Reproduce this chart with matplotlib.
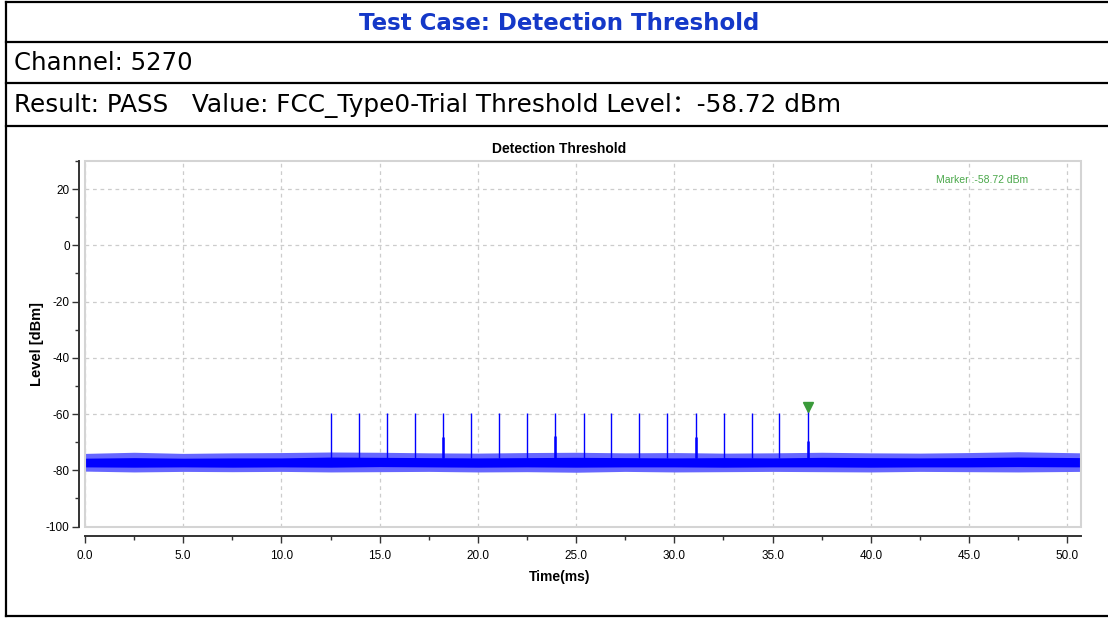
import matplotlib
matplotlib.use("Agg")
import matplotlib.pyplot as plt
from matplotlib.lines import Line2D
from matplotlib.patches import Rectangle
from matplotlib.ticker import MultipleLocator, FormatStrFormatter

plt.rcParams['axes.unicode_minus'] = False

W, H = 1108, 618
CHART = ['Liberation Sans', 'DejaVu Sans']
TABLE = ['DejaVu Sans', 'Noto Sans CJK SC']

# pulse times (ms) and peak levels (dBm)
pulse_t = [12.53, 13.94, 15.37, 16.79, 18.23, 19.66, 21.08, 22.51, 23.93,
           25.38, 26.80, 28.21, 29.63, 31.09, 32.52, 33.93, 35.35, 36.78]
pulse_peak = [-59.5, -59.5, -59.5, -59.5, -59.5, -59.5, -59.5, -59.5, -59.5,
              -59.5, -59.5, -59.5, -59.5, -59.5, -59.5, -59.5, -59.5, -58.72]
# thicker lower part seen on some pulses
echo_t = [18.23, 23.93, 31.09, 36.78]
echo_peak = [-68.0, -67.8, -68.0, -69.5]

# noise floor envelope (dBm) sampled along time
noise_t = [0, 2.5, 5, 7.5, 10, 12.5, 15, 17.5, 20, 22.5, 25, 27.5, 30,
           32.5, 35, 37.5, 40, 42.5, 45, 47.5, 50.7]
core_hi = [-75.7, -75.5, -75.7, -75.6, -75.6, -75.3, -75.4, -75.5, -75.6, -75.5,
           -75.4, -75.5, -75.6, -75.5, -75.6, -75.4, -75.5, -75.6, -75.5, -75.3, -75.5]
core_lo = [-78.8, -78.9, -78.8, -78.9, -78.8, -78.9, -78.7, -78.8, -78.9, -78.8,
           -78.9, -78.8, -78.8, -78.9, -78.8, -78.8, -78.9, -78.8, -78.8, -78.7, -78.8]
peak_hi = [-74.0, -73.6, -74.0, -73.8, -73.7, -73.5, -73.6, -73.8, -73.9, -73.7,
           -73.6, -73.8, -73.7, -73.9, -73.8, -73.6, -73.8, -73.9, -73.7, -73.4, -73.8]
peak_lo = [-80.3, -80.6, -80.4, -80.5, -80.4, -80.6, -80.5, -80.4, -80.6, -80.5,
           -80.7, -80.4, -80.6, -80.5, -80.4, -80.5, -80.6, -80.4, -80.5, -80.6, -80.4]

marker_t, marker_val = 36.78, -58.72

fig = plt.figure(figsize=(W / 100, H / 100), dpi=100)


def fx(px):
    return px / W


def fy(py):
    return 1 - py / H


# report table frame
for py in [2, 42, 83, 126, 616]:
    fig.add_artist(Line2D([fx(6), fx(W)], [fy(py), fy(py)], color='black', lw=1.6))
fig.add_artist(Line2D([fx(6), fx(6)], [fy(2), fy(616)], color='black', lw=1.6))

fig.text(fx(559), fy(24), 'Test Case: Detection Threshold', family=TABLE, fontsize=16.5,
         fontweight='bold', color='#1438c8', ha='center', va='center')
fig.text(fx(14), fy(63), 'Channel: 5270', family=TABLE, fontsize=17.6,
         ha='left', va='center')
fig.text(fx(14), fy(105), 'Result: PASS   Value: FCC_Type0-Trial Threshold Level\uff1a-58.72 dBm',
         family=TABLE, fontsize=17.8, ha='left', va='center')

# chart
ax = fig.add_axes([fx(85), fy(526.5), fx(1081) - fx(85), fy(161) - fy(526.5)])
ax.set_xlim(0, 50.7)
ax.set_ylim(-100, 30)

ax.fill_between(noise_t, peak_lo, peak_hi, color='#6666ff', lw=0, zorder=2)
ax.fill_between(noise_t, core_lo, core_hi, color='#0000ff', lw=0, zorder=3)
ax.vlines(pulse_t, -75.5, pulse_peak, color='#0000ff', lw=1, zorder=4)
ax.vlines(echo_t, -75.5, echo_peak, color='#0000ff', lw=1.8, zorder=4)
ax.plot([marker_t], [marker_val + 1.3], marker='v', color='#3a9a3a', ms=7, zorder=5)
ax.text(0.9006, 0.948, 'Marker :-58.72 dBm', transform=ax.transAxes, family=CHART,
        fontsize=7.5, color='#4aa84a', ha='center', va='center')

ax.xaxis.set_major_locator(MultipleLocator(5))
ax.xaxis.set_minor_locator(MultipleLocator(2.5))
ax.yaxis.set_major_locator(MultipleLocator(20))
ax.yaxis.set_minor_locator(MultipleLocator(10))
ax.xaxis.set_major_formatter(FormatStrFormatter('%.1f'))
ax.grid(True, which='major', color='#cccccc', lw=0.9, ls=(0, (3, 3)), zorder=1)

for s in ['top', 'right']:
    ax.spines[s].set_visible(False)
ax.spines['left'].set_position(('outward', 4))
ax.spines['bottom'].set_position(('outward', 7))
for s in ['left', 'bottom']:
    ax.spines[s].set_color('#333333')
    ax.spines[s].set_linewidth(1.4)
ax.add_patch(Rectangle((0, 0), 1, 1, transform=ax.transAxes, fill=False,
                       edgecolor='#d4d4d4', lw=1.5, clip_on=False, zorder=6))

ax.tick_params(which='major', length=5, width=1, color='#333333', labelsize=8.5)
ax.tick_params(which='minor', length=3, width=1, color='#333333')
ax.tick_params(axis='x', pad=5)
ax.tick_params(axis='y', pad=2)
for lab in ax.get_xticklabels() + ax.get_yticklabels():
    lab.set_family(CHART)

fig.text(fx(559), fy(149), 'Detection Threshold', family=CHART, fontsize=10,
         fontweight='bold', ha='center', va='center')
fig.text(fx(37), fy(344), 'Level [dBm]', family=CHART, fontsize=10.5,
         fontweight='bold', rotation=90, ha='center', va='center')
fig.text(fx(560), fy(577), 'Time(ms)', family=CHART, fontsize=10,
         fontweight='bold', ha='center', va='center')

fig.savefig('out.png', dpi=100)
